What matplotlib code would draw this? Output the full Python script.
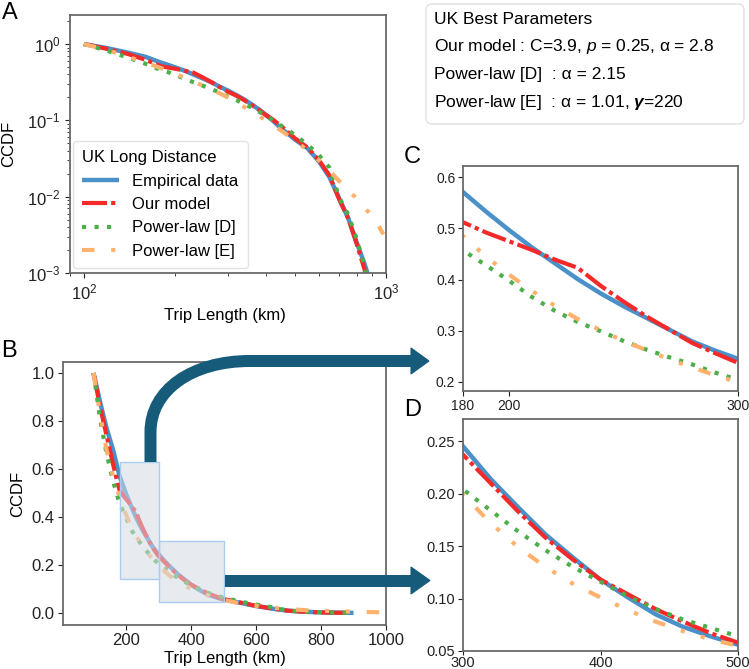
import numpy as np
import matplotlib
matplotlib.use("Agg")
import matplotlib.pyplot as plt
from matplotlib.patches import Rectangle, PathPatch, Polygon, FancyBboxPatch
from matplotlib.path import Path
from matplotlib.transforms import Affine2D
from matplotlib.ticker import NullFormatter

plt.rcParams['font.family'] = ['Liberation Sans', 'DejaVu Sans']
plt.rcParams['mathtext.fontset'] = 'custom'
plt.rcParams['mathtext.rm'] = 'Liberation Sans'
plt.rcParams['mathtext.it'] = 'Liberation Sans:italic'
plt.rcParams['mathtext.bf'] = 'Liberation Sans:bold:italic'

# ---------------- data ----------------
x_emp = [100, 120, 140, 160, 180, 190, 200, 210, 220, 230, 240, 250, 260, 270, 280, 290, 300,
         320, 340, 360, 380, 400, 420, 440, 460, 480, 500, 550, 600, 650, 700, 750, 800, 850, 868, 900]
y_emp = [1.0, 0.88, 0.77, 0.68, 0.571, 0.533, 0.497, 0.463, 0.432, 0.401, 0.373, 0.348, 0.325, 0.302,
         0.279, 0.261, 0.245, 0.214, 0.187, 0.161, 0.139, 0.118, 0.101, 0.085, 0.073, 0.064, 0.056,
         0.043, 0.029, 0.018, 0.0095, 0.0052, 0.0025, 0.0013, 0.001, 0.0006]

x_model = [100, 120, 140, 160, 170, 180, 190, 200, 210, 220, 230, 240, 250, 260, 270, 280, 290, 300,
           320, 340, 360, 380, 400, 420, 440, 460, 480, 500, 550, 600, 650, 700, 750, 800, 850, 880]
y_model = [1.0, 0.86, 0.74, 0.62, 0.565, 0.512, 0.492, 0.475, 0.458, 0.439, 0.423, 0.388, 0.357,
           0.328, 0.302, 0.276, 0.256, 0.237, 0.210, 0.183, 0.158, 0.137, 0.118, 0.104, 0.090, 0.078,
           0.067, 0.058, 0.044, 0.030, 0.019, 0.0092, 0.0052, 0.0024, 0.0011, 0.0005]

x_pld = [100, 120, 140, 160, 180, 190, 200, 210, 220, 230, 240, 250, 260, 270, 280, 290, 300,
         320, 340, 360, 380, 400, 420, 440, 460, 480, 500, 550, 600, 650, 700, 750, 800, 850, 890]
y_pld = [1.0, 0.81, 0.665, 0.55, 0.457, 0.428, 0.398, 0.366, 0.339, 0.317, 0.299, 0.28, 0.263, 0.248,
         0.234, 0.218, 0.204, 0.184, 0.164, 0.146, 0.130, 0.116, 0.102, 0.090, 0.080, 0.072, 0.064,
         0.048, 0.035, 0.024, 0.0098, 0.0058, 0.0028, 0.0012, 0.0005]

x_ple = [100, 120, 140, 160, 180, 190, 200, 210, 220, 230, 240, 250, 260, 270, 280, 290, 300,
         320, 340, 360, 380, 400, 420, 440, 460, 480, 500, 550, 600, 650, 700, 750, 800, 850, 900,
         950, 980]
y_ple = [1.0, 0.83, 0.68, 0.57, 0.485, 0.445, 0.41, 0.378, 0.349, 0.323, 0.301, 0.28, 0.262, 0.244,
         0.228, 0.213, 0.199, 0.172, 0.149, 0.130, 0.114, 0.101, 0.089, 0.078, 0.069, 0.061, 0.055,
         0.040, 0.030, 0.022, 0.016, 0.012, 0.0095, 0.0072, 0.0055, 0.0040, 0.0032]

labels = ['Empirical data', 'Our model', 'Power-law [D]', 'Power-law [E]']
colors = ['#4a90c9', '#f42a2a', '#4caf4a', '#ffb26e']

params_title = 'UK Best Parameters'
params_lines = ['Our model : C=3.9, $p$ = 0.25, α = 2.8',
                'Power-law [D]  : α = 2.15',
                'Power-law [E]  : α = 1.01, $\\mathbf{\\gamma}$=220']

series = [(x_emp, y_emp), (x_model, y_model), (x_pld, y_pld), (x_ple, y_ple)]
styles = [dict(ls='-', lw=3.2),
          dict(ls=(0, (6, 1, 1, 1)), lw=3.0),
          dict(ls=(0, (1, 2)), lw=3.0),
          dict(ls=(0, (3, 4, 1, 4, 1, 4)), lw=3.0)]

W, H = 749, 669
fig = plt.figure(figsize=(W / 100, H / 100), dpi=100)


def axrect(l, t, r, b):
    return [l / W, 1 - b / H, (r - l) / W, (b - t) / H]


spine_col = '#6a6a6a'


def style_axes(ax, lsize, pad=3.5):
    for s in ax.spines.values():
        s.set_color(spine_col)
        s.set_linewidth(1.3)
    ax.tick_params(labelsize=lsize, colors='#222222', which='both', pad=pad)


def draw(ax):
    for (xs, ys), c, st, lab in zip(series, colors, styles, labels):
        ax.plot(xs, ys, color=c, label=lab, solid_capstyle='butt',
                dash_capstyle='butt', **st)


# ---------------- Panel A ----------------
axA = fig.add_axes(axrect(70, 15, 386, 273))
draw(axA)
axA.set_xscale('log')
axA.set_yscale('log')
axA.set_xlim(90, 1000)
axA.set_ylim(1e-3, 2.4)
axA.xaxis.set_minor_formatter(NullFormatter())
style_axes(axA, 12)
axA.set_xlabel('Trip Length (km)', fontsize=12)
axA.set_ylabel('CCDF', fontsize=12)
axA.xaxis.set_label_coords(0.49, -0.137)
axA.yaxis.set_label_coords(-0.172, 0.5)
leg = axA.legend(title='UK Long Distance', fontsize=12, title_fontsize=12,
                 loc='lower left', bbox_to_anchor=(0.01, 0.02), borderaxespad=0,
                 handlelength=2.2, alignment='left', borderpad=0.55)
leg.get_frame().set_edgecolor('#dddddd')

# ---------------- Panel B ----------------
axB = fig.add_axes(axrect(63, 362, 386, 625))
draw(axB)
axB.set_xlim(6, 1000)
axB.set_ylim(-0.05, 1.046)
axB.set_xticks([200, 400, 600, 800, 1000])
axB.set_yticks([0.0, 0.2, 0.4, 0.6, 0.8, 1.0])
style_axes(axB, 12, pad=2.5)
axB.set_xlabel('Trip Length (km)', fontsize=12)
axB.set_ylabel('CCDF', fontsize=12)
axB.xaxis.set_label_coords(0.5, -0.098)
axB.yaxis.set_label_coords(-0.118, 0.5)
for (x0, y0, w, h) in [(180, 0.14, 120, 0.49), (300, 0.045, 200, 0.255)]:
    axB.add_patch(Rectangle((x0, y0), w, h, facecolor='#d5dbe5', alpha=0.55,
                            edgecolor='none', zorder=5))
    axB.add_patch(Rectangle((x0, y0), w, h, facecolor='none',
                            edgecolor='#a9cdf0', lw=1, zorder=6))

# ---------------- Panel C ----------------
axC = fig.add_axes(axrect(463, 166, 738, 391))
draw(axC)
axC.set_xlim(180, 300)
axC.set_ylim(0.182, 0.622)
axC.set_xticks([180, 200, 300])
axC.set_yticks([0.2, 0.3, 0.4, 0.5, 0.6])
axC.set_yticklabels(['0.2', '0.3', '0.4', '0.5', '0.6'])
style_axes(axC, 10, pad=2)

# ---------------- Panel D ----------------
axD = fig.add_axes(axrect(463, 419, 738, 651))
draw(axD)
axD.set_xlim(300, 500)
axD.set_ylim(0.05, 0.271)
axD.set_xticks([300, 400, 500])
axD.set_yticks([0.05, 0.10, 0.15, 0.20, 0.25])
axD.set_yticklabels(['0.05', '0.10', '0.15', '0.20', '0.25'])
style_axes(axD, 10.5, pad=2)
axD.tick_params(axis='x', pad=0.5, length=3)

# ---------------- panel letters ----------------
for lab, px, py in [('A', 2, 2), ('B', 1, 340), ('C', 404, 146), ('D', 404, 399)]:
    fig.text(px / W, 1 - py / H, lab, fontsize=17, ha='left', va='top')

# ---------------- parameter box ----------------
pix = Affine2D().scale(1 / W, -1 / H).translate(0, 1) + fig.transFigure
box = FancyBboxPatch((426, 4), 318, 120, boxstyle='round,pad=0,rounding_size=6',
                     transform=pix, facecolor='white', edgecolor='#e0e0e0', lw=1)
fig.add_artist(box)
fig.text(434 / W, 1 - 20 / H, params_title, fontsize=12.5, va='center', ha='left')
for i, line in enumerate(params_lines):
    fig.text(434 / W, 1 - (47 + 28 * i) / H, line, fontsize=12.5, va='center', ha='left')

# ---------------- arrows ----------------
arrow_col = '#175b7b'
shaft_lw = 12 * 72 / 100
p1 = Path([(150.5, 462), (150.5, 432), (150.5, 390), (192, 361), (250, 361), (413, 361)],
          [Path.MOVETO, Path.LINETO, Path.CURVE4, Path.CURVE4, Path.CURVE4, Path.LINETO])
fig.add_artist(PathPatch(p1, transform=pix, facecolor='none', edgecolor=arrow_col,
                         lw=shaft_lw, capstyle='butt', joinstyle='miter', zorder=20))
fig.add_artist(Polygon([(411, 348), (429, 361), (411, 374)], closed=True, transform=pix,
                       facecolor=arrow_col, edgecolor=arrow_col, lw=0.8, zorder=20))
p2 = Path([(225, 580.5), (413, 580.5)], [Path.MOVETO, Path.LINETO])
fig.add_artist(PathPatch(p2, transform=pix, facecolor='none', edgecolor=arrow_col,
                         lw=shaft_lw, capstyle='butt', zorder=20))
fig.add_artist(Polygon([(411, 567), (430, 580.5), (411, 594)], closed=True, transform=pix,
                       facecolor=arrow_col, edgecolor=arrow_col, lw=0.8, zorder=20))

fig.savefig('out.png', dpi=100)
